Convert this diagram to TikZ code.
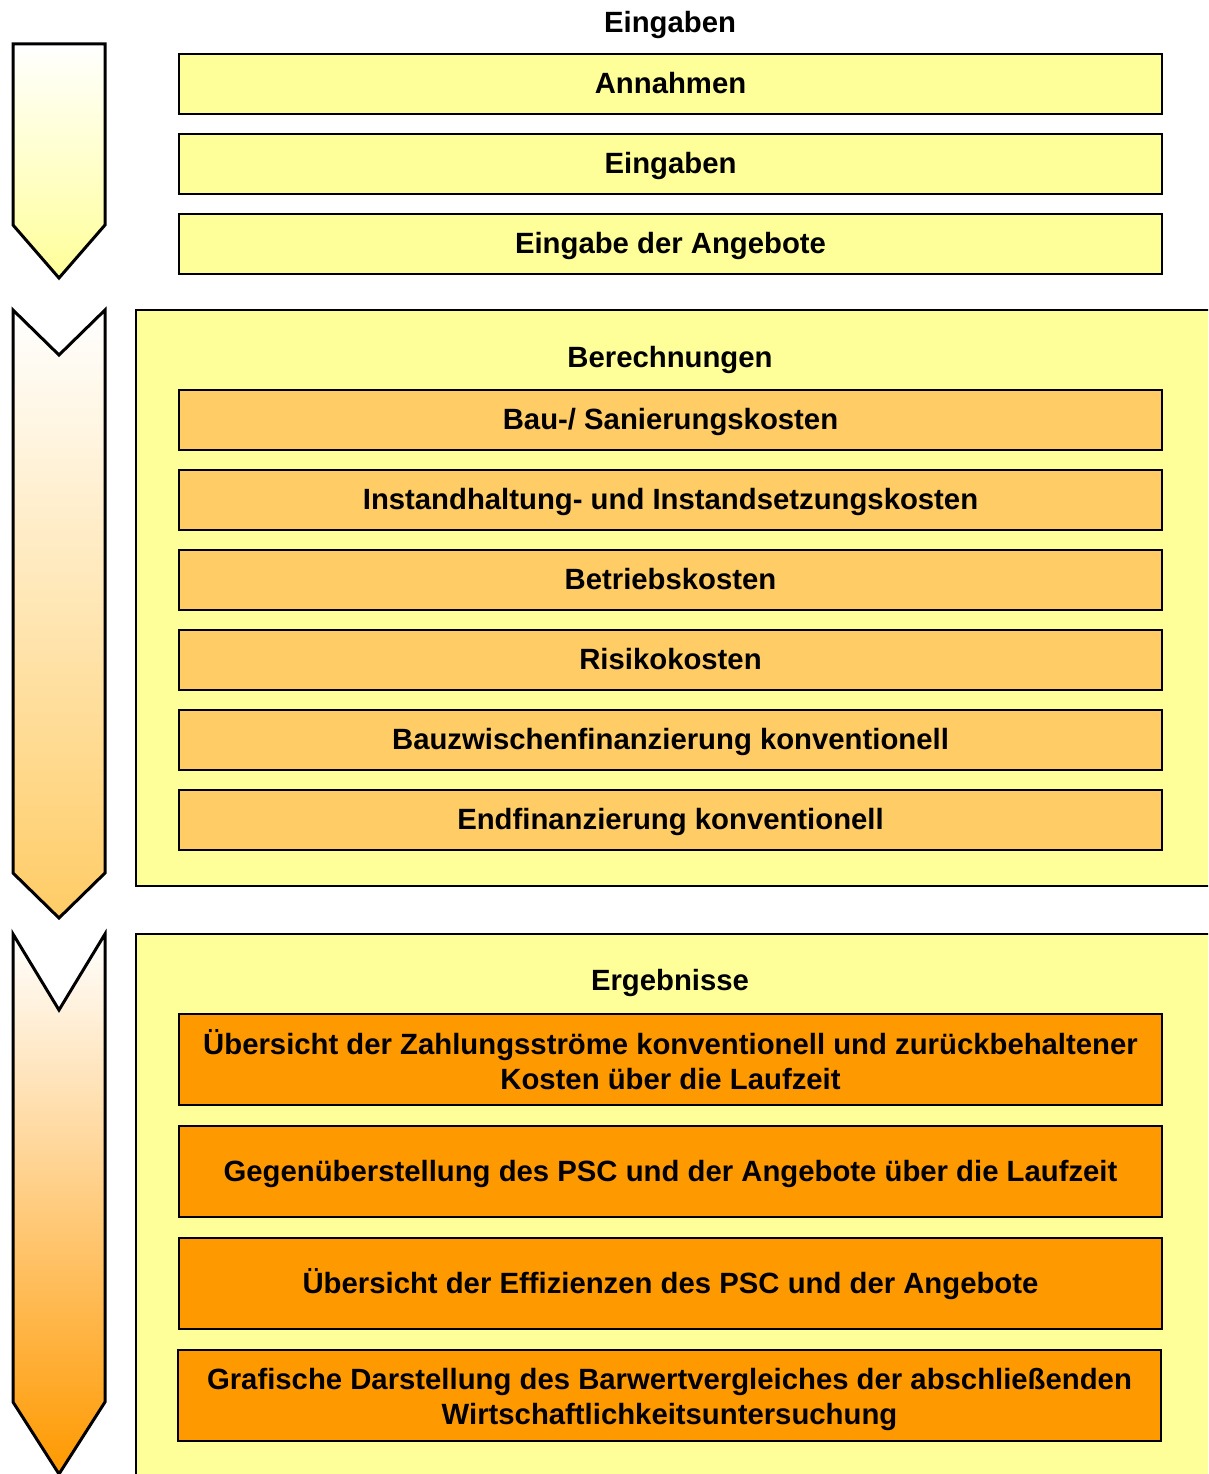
\documentclass[tikz,border=0pt]{standalone}
\usepackage{fontspec}
\setmainfont{Liberation Sans}
\definecolor{lightyellow}{HTML}{FFFF99}
\definecolor{lightorange}{HTML}{FFCC66}
\definecolor{darkorange}{HTML}{FF9900}

\begin{document}
\begin{tikzpicture}[x=1pt,y=-1pt,font=\bfseries\fontsize{29.3}{35}\selectfont]

      \clip (0,0) rectangle (1208,1474);

      \begin{scope}[draw=black,line width=3pt,line join=miter]
        \shade[draw,top color=white,bottom color=lightyellow]
          (13,44) -- (105,44) -- (105,225) -- (59,278) -- (13,225) -- cycle;
        \shade[draw,top color=white,bottom color=lightorange]
          (13,310) -- (59,355) -- (105,310) -- (105,873) -- (59,918) -- (13,873) -- cycle;
        \shade[draw,top color=white,bottom color=darkorange]
          (13,934) -- (59,1010) -- (105,934) -- (105,1402) -- (59,1474) -- (13,1402) -- cycle;
      \end{scope}

      \begin{scope}[line width=2pt]
        \filldraw[fill=lightyellow] (136,310) rectangle (1230,886);
        \filldraw[fill=lightyellow] (136,934) rectangle (1230,1500);
      \end{scope}

      \begin{scope}[every node/.style={anchor=center,text height=22pt,text depth=3pt}]
        \node (eingaben) at (670,23) {Eingaben};
        \node (berechnungen) at (670,358) {Berechnungen};
        \node (ergebnisse) at (670,981) {Ergebnisse};
      \end{scope}

      \begin{scope}[every node/.style={draw,line width=2pt,rectangle,fill=lightyellow,
          minimum width=983pt,minimum height=60pt,inner sep=0pt,
          text height=22pt,text depth=3pt}]
        \node (annahmen) at (670.5,84) {Annahmen};
        \node (eingabe) at (670.5,164) {Eingaben};
        \node (angebote) at (670.5,244) {Eingabe der Angebote};
      \end{scope}

      \begin{scope}[every node/.style={draw,line width=2pt,rectangle,fill=lightorange,
          minimum width=983pt,minimum height=60pt,inner sep=0pt,
          text height=22pt,text depth=3pt}]
        \node (baukosten) at (670.5,420) {Bau-/ Sanierungskosten};
        \node (instand) at (670.5,500) {Instandhaltung- und Instandsetzungskosten};
        \node (betrieb) at (670.5,580) {Betriebskosten};
        \node (risiko) at (670.5,660) {Risikokosten};
        \node (zwischen) at (670.5,740) {Bauzwischenfinanzierung konventionell};
        \node (endfin) at (670.5,820) {Endfinanzierung konventionell};
      \end{scope}

      \begin{scope}[every node/.style={draw,line width=2pt,rectangle,fill=darkorange,
          minimum width=983pt,minimum height=91pt,inner sep=0pt,align=center}]
        \node (zahlung) at (670.5,1059.5) {Übersicht der Zahlungsströme konventionell und zurückbehaltener\\Kosten über die Laufzeit};
        \node[text height=22pt,text depth=3pt] (psc) at (670.5,1171.5) {Gegenüberstellung des PSC und der Angebote über die Laufzeit};
        \node[text height=22pt,text depth=3pt] (effizienz) at (670.5,1283.5) {Übersicht der Effizienzen des PSC und der Angebote};
        \node (grafik) at (669.5,1395.5) {\rule{0pt}{29.5pt}Grafische Darstellung des Barwertvergleiches der abschließenden\\Wirtschaftlichkeitsuntersuchung};
      \end{scope}

    \end{tikzpicture}
\end{document}
